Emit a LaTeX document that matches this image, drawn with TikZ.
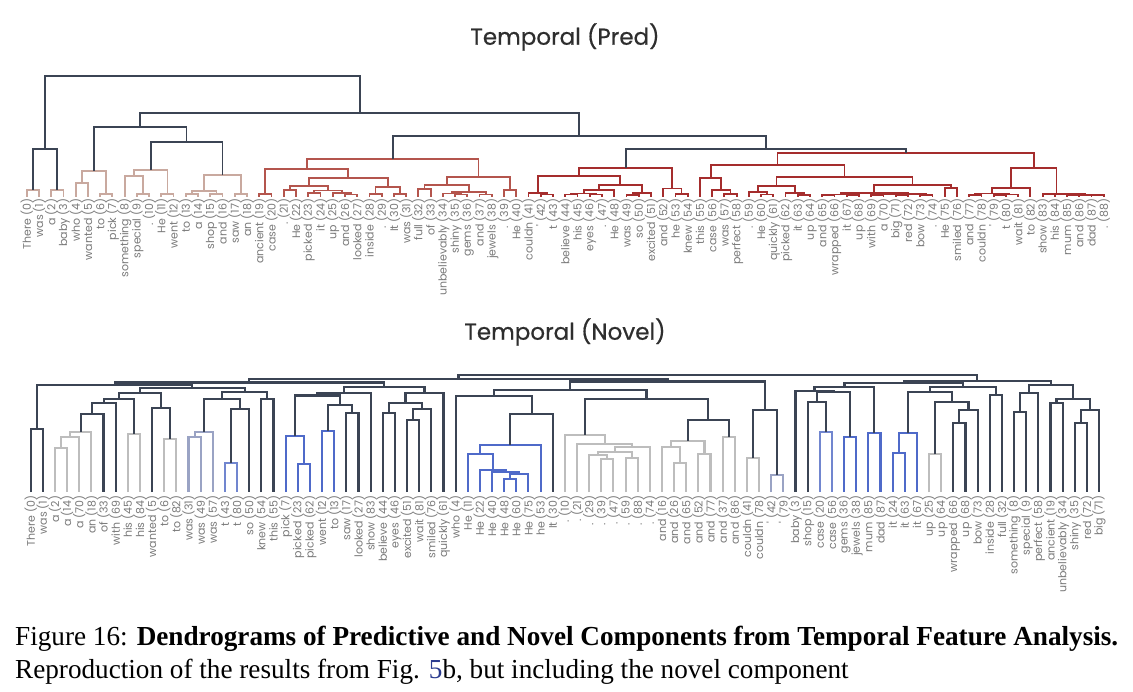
\documentclass[tikz,border=0pt]{standalone}
\usepackage{fontspec}
\usepackage{graphicx}
\usetikzlibrary{calc}
\newfontfamily\lblfont{Poppins}
\newfontfamily\ttlfont[FakeBold=0.6]{Poppins}
\newfontfamily\capfont{Liberation Serif}
\definecolor{cdk}{HTML}{3B4454}
\definecolor{clb}{HTML}{C9A99F}
\definecolor{cra}{HTML}{B4554D}
\definecolor{crb}{HTML}{A52D2D}
\definecolor{cgl}{HTML}{BDBDBD}
\definecolor{cgb}{HTML}{9AA3C4}
\definecolor{cbm}{HTML}{7186CF}
\definecolor{cbl}{HTML}{4F6AC9}
\definecolor{clbl}{HTML}{7A7A7A}
\definecolor{ctit}{HTML}{2E2E2E}
\definecolor{clink}{HTML}{2A3B8F}
\newcommand\mrg[5]{%
  \path let \p1=(#2), \p2=(#3) in coordinate (#1) at ({0.5*\x1+0.5*\x2},{-#4pt});%
  \draw[#5] (#2) |- (#1) -| (#3);}
\begin{document}
\begin{tikzpicture}[x=1pt,y=1pt,
  lnkT/.style={line width=1.8pt},
  lnkB/.style={line width=2.1pt},
  cDk/.style={draw=cdk}, cLb/.style={draw=clb}, cRa/.style={draw=cra}, cRb/.style={draw=crb},
  cGl/.style={draw=cgl}, cGb/.style={draw=cgb}, cBm/.style={draw=cbm}, cBl/.style={draw=cbl},
  lbl/.style={rotate=90, anchor=east, inner sep=0pt, text=clbl, font=\lblfont\fontsize{11}{12}\selectfont},
  ttl/.style={inner sep=0pt, text=ctit, font=\ttlfont\fontsize{23}{26}\selectfont}]
\useasboundingbox (0,0) rectangle (1133,-692);
\fill[white] (0,0) rectangle (1133,-692);

% titles
\node[ttl] (title1) at (565,-37) {Temporal (Pred)};
\node[ttl] (title2) at (565,-332) {Temporal (Novel)};

% ---------- top dendrogram ----------
\foreach \i in {0,...,88}{\coordinate (t\i) at ({26.7+12.24*\i},-197);}
\foreach \w [count=\i from 0] in {There (0),was (1),a (2),baby (3),who (4),wanted (5),to (6),pick (7),something (8),special (9),. (10),He (11),went (12),to (13),a (14),shop (15),and (16),saw (17),an (18),ancient (19),case (20),. (21),He (22),picked (23),it (24),up (25),and (26),looked (27),inside (28),. (29),It (30),was (31),full (32),of (33),unbelievably (34),shiny (35),gems (36),and (37),jewels (38),. (39),He (40),couldn (41),' (42),t (43),believe (44),his (45),eyes (46),. (47),He (48),was (49),so (50),excited (51),and (52),he (53),knew (54),this (55),case (56),was (57),perfect (58),. (59),He (60),quickly (61),picked (62),it (63),up (64),and (65),wrapped (66),it (67),up (68),with (69),a (70),big (71),red (72),bow (73),. (74),He (75),smiled (76),and (77),couldn (78),' (79),t (80),wait (81),to (82),show (83),his (84),mum (85),and (86),dad (87),. (88)}
  {\node[lbl] (tl\i) at ({26.7+12.24*\i},-198.5) {\w};}

\begin{scope}[lnkT]
\mrg{a01}{t0}{t1}{190}{cLb}
\mrg{a23}{t2}{t3}{190}{cLb}
\mrg{a03}{a01}{a23}{149}{cDk}
\mrg{a45}{t4}{t5}{182.7}{cLb}
\mrg{a67}{t6}{t7}{194}{cLb}
\mrg{a47}{a45}{a67}{171}{cLb}
\mrg{a910}{t9}{t10}{194}{cLb}
\mrg{a810}{t8}{a910}{176}{cLb}
\mrg{a1112}{t11}{t12}{194}{cLb}
\mrg{a812}{a810}{a1112}{170}{cLb}
\mrg{a1314}{t13}{t14}{194}{cLb}
\mrg{a1516}{t15}{t16}{194}{cLb}
\mrg{a1316}{a1314}{a1516}{191}{cLb}
\mrg{a1718}{t17}{t18}{194}{cLb}
\mrg{a1318}{a1316}{a1718}{175}{cLb}
\mrg{a818}{a812}{a1318}{141.7}{cDk}
\mrg{a418}{a47}{a818}{126.7}{cDk}
% red A
\mrg{r1920}{t19}{t20}{194}{cRa}
\mrg{r2122}{t21}{t22}{190}{cRa}
\mrg{r2324}{t23}{t24}{193}{cRa}
\mrg{r2627}{t26}{t27}{194.5}{cRa}
\mrg{r2527}{t25}{r2627}{193}{cRa}
\mrg{r2327}{r2324}{r2527}{190.5}{cRa}
\mrg{r2127}{r2122}{r2327}{186}{cRa}
\mrg{r2829}{t28}{t29}{194}{cRa}
\mrg{r3031}{t30}{t31}{194}{cRa}
\mrg{r2831}{r2829}{r3031}{186.7}{cRa}
\mrg{r2131}{r2127}{r2831}{177.7}{cRa}
\mrg{r1931}{r1920}{r2131}{169}{cRa}
\mrg{r3233}{t32}{t33}{189}{cRa}
\mrg{r3536}{t35}{t36}{194.5}{cRa}
\mrg{r3436}{t34}{r3536}{193.5}{cRa}
\mrg{r3738}{t37}{t38}{194.5}{cRa}
\mrg{r3438}{r3436}{r3738}{192}{cRa}
\mrg{r3238}{r3233}{r3438}{184.7}{cRa}
\mrg{r3940}{t39}{t40}{190}{cRa}
\mrg{r3240}{r3238}{r3940}{176.7}{cRa}
\mrg{r1940}{r1931}{r3240}{159.3}{cRa}
% red B
\mrg{s4243}{t42}{t43}{194.5}{cRb}
\mrg{s4143}{t41}{s4243}{193}{cRb}
\mrg{s4445}{t44}{t45}{194.5}{cRb}
\mrg{s4647}{t46}{t47}{194.5}{cRb}
\mrg{s4447}{s4445}{s4647}{193.5}{cRb}
\mrg{s4448}{s4447}{t48}{190}{cRb}
\mrg{s4950}{t49}{t50}{195}{cRb}
\mrg{s4951}{s4950}{t51}{193}{cRb}
\mrg{s4451}{s4448}{s4951}{184.7}{cRb}
\mrg{s4151}{s4143}{s4451}{176}{cRb}
\mrg{s5354}{t53}{t54}{194}{cRb}
\mrg{s5254}{t52}{s5354}{188.5}{cRb}
\mrg{s4154}{s4151}{s5254}{167.7}{cRb}
\mrg{s5758}{t57}{t58}{194}{cRb}
\mrg{s5658}{t56}{s5758}{190}{cRb}
\mrg{s5558}{t55}{s5658}{178}{cRb}
\mrg{s6061}{t60}{t61}{194.5}{cRb}
\mrg{s5961}{t59}{s6061}{192}{cRb}
\mrg{s6364}{t63}{t64}{195}{cRb}
\mrg{s6264}{t62}{s6364}{193}{cRb}
\mrg{s5964}{s5961}{s6264}{186}{cRb}
\mrg{s6566}{t65}{t66}{195.2}{cRb}
\mrg{s6768}{t67}{t68}{195.2}{cRb}
\mrg{s6568}{s6566}{s6768}{194.6}{cRb}
\mrg{s6970}{t69}{t70}{194.8}{cRb}
\mrg{s7172}{t71}{t72}{195}{cRb}
\mrg{s6972}{s6970}{s7172}{194.3}{cRb}
\mrg{s7374}{t73}{t74}{195.3}{cRb}
\mrg{s6974}{s6972}{s7374}{193.8}{cRb}
\mrg{s6574}{s6568}{s6974}{193.2}{cRb}
\mrg{s7576}{t75}{t76}{188}{cRb}
\mrg{s6576}{s6574}{s7576}{185}{cRb}
\mrg{s5976}{s5964}{s6576}{176.7}{cRb}
\mrg{s5576}{s5558}{s5976}{165}{cRb}
\mrg{s7778}{t77}{t78}{195}{cRb}
\mrg{s7980}{t79}{t80}{195}{cRb}
\mrg{s7981}{s7980}{t81}{194.5}{cRb}
\mrg{s7781}{s7778}{s7981}{193.5}{cRb}
\mrg{s7782}{s7781}{t82}{187.7}{cRb}
\mrg{s8586}{t85}{t86}{195.2}{cRb}
\mrg{s8788}{t87}{t88}{195.2}{cRb}
\mrg{s8588}{s8586}{s8788}{194.8}{cRb}
\mrg{s8488}{t84}{s8588}{194.3}{cRb}
\mrg{s8388}{t83}{s8488}{194}{cRb}
\mrg{s7788}{s7782}{s8388}{168.3}{cRb}
\mrg{s5588}{s5576}{s7788}{153.3}{cRb}
% dark top levels
\mrg{d1}{s4154}{s5588}{149.3}{cDk}
\mrg{d2}{r1940}{d1}{136}{cDk}
\mrg{d3}{a418}{d2}{113}{cDk}
\mrg{d4}{a03}{d3}{76}{cDk}
\end{scope}

% ---------- bottom dendrogram ----------
\foreach \i in {0,...,88}{\coordinate (B\i) at ({30.7+12.14*\i},-492);}
\foreach \w [count=\i from 0] in {There (0),was (1),a (2),a (14),a (70),an (18),of (33),with (69),his (45),his (84),wanted (5),to (6),to (82),was (31),was (49),was (57),t (43),t (80),so (50),knew (54),this (55),pick (7),picked (23),picked (62),went (12),to (13),saw (17),looked (27),show (83),believe (44),eyes (46),excited (51),wait (81),smiled (76),quickly (61),who (4),He (11),He (22),He (40),He (48),He (60),He (75),he (53),It (30),. (10),. (21),. (29),. (39),. (47),. (59),. (88),. (74),and (16),and (26),and (65),and (52),and (77),and (37),and (86),couldn (41),couldn (78),' (42),' (79),baby (3),shop (15),case (20),case (56),gems (36),jewels (38),mum (85),dad (87),it (24),it (63),it (67),up (25),up (64),wrapped (66),up (68),bow (73),inside (28),full (32),something (8),special (9),perfect (58),ancient (19),unbelievably (34),shiny (35),red (72),big (71)}
  {\node[lbl] (bl\i) at ({30.7+12.14*\i},-495.5) {\w};}

\begin{scope}[lnkB]
\mrg{c01}{B0}{B1}{429.3}{cDk}
\mrg{c23}{B2}{B3}{448.3}{cGl}
\mrg{c24}{c23}{B4}{437.3}{cGl}
\mrg{c25}{c24}{B5}{431.7}{cGl}
\mrg{c26}{c25}{B6}{413.7}{cDk}
\mrg{c27}{c26}{B7}{403.3}{cDk}
\mrg{c89}{B8}{B9}{434}{cGl}
\mrg{c29}{c27}{c89}{398.7}{cDk}
\mrg{c1112}{B11}{B12}{439.3}{cGl}
\mrg{c1012}{B10}{c1112}{407.7}{cDk}
\mrg{c212}{c29}{c1012}{392.7}{cDk}
\mrg{c1314}{B13}{B14}{437.3}{cGb}
\mrg{c1315}{c1314}{B15}{431.7}{cGb}
\mrg{c1617}{B16}{B17}{462.7}{cBm}
\mrg{c1618}{c1617}{B18}{409.3}{cDk}
\mrg{c1318}{c1315}{c1618}{399.3}{cDk}
\mrg{c1920}{B19}{B20}{399.3}{cDk}
\mrg{c1320}{c1318}{c1920}{392}{cDk}
\mrg{c220}{c212}{c1320}{387.7}{cDk}
\mrg{c020}{c01}{c220}{385}{cDk}
\mrg{c2223}{B22}{B23}{463.7}{cBl}
\mrg{c2123}{B21}{c2223}{436}{cBl}
\mrg{c2425}{B24}{B25}{431}{cBl}
\mrg{c2627}{B26}{B27}{412.7}{cDk}
\mrg{c2427}{c2425}{c2627}{405}{cDk}
\mrg{c2127}{c2123}{c2427}{395.5}{cDk}
\mrg{c2128}{c2127}{B28}{393.3}{cDk}
\mrg{c2930}{B29}{B30}{413.3}{cDk}
\mrg{c3132}{B31}{B32}{420}{cDk}
\mrg{c3133}{c3132}{B33}{409.3}{cDk}
\mrg{c2933}{c2930}{c3133}{403.3}{cDk}
\mrg{c2934}{c2933}{B34}{392.7}{cDk}
\mrg{c2134}{c2128}{c2934}{386.7}{cDk}
\mrg{c034}{c020}{c2134}{382.5}{cDk}
% He cluster
\mrg{h1}{B39}{B40}{479.3}{cBl}
\mrg{h2}{h1}{B41}{474.3}{cBl}
\mrg{h3}{B38}{h2}{472}{cBl}
\mrg{h4}{B37}{h3}{470}{cBl}
\mrg{h5}{B36}{h4}{454}{cBl}
\mrg{h6}{h5}{B42}{445}{cBl}
\mrg{h7}{h6}{B43}{414.3}{cDk}
\mrg{h8}{B35}{h7}{396}{cDk}
% dots
\mrg{e1}{B47}{B48}{459.3}{cGl}
\mrg{e2}{B46}{e1}{455}{cGl}
\mrg{e3}{B49}{B50}{458.3}{cGl}
\mrg{e4}{e2}{e3}{451.7}{cGl}
\mrg{e5}{e4}{B51}{447.3}{cGl}
\mrg{e6}{B45}{e5}{444}{cGl}
\mrg{e7}{B44}{e6}{435}{cGl}
% ands
\mrg{f1}{B53}{B54}{463.3}{cGl}
\mrg{f2}{B52}{f1}{447.3}{cGl}
\mrg{f3}{B55}{B56}{454.3}{cGl}
\mrg{f4}{f2}{f3}{441}{cGl}
\mrg{f5}{B57}{B58}{437.3}{cGl}
\mrg{f6}{f4}{f5}{420}{cDk}
\mrg{f7}{e7}{f6}{399.3}{cDk}
\mrg{g1}{h8}{f7}{390}{cDk}
% couldn / apostrophes
\mrg{k1}{B59}{B60}{458.3}{cGl}
\mrg{k2}{B61}{B62}{475}{cGb}
\mrg{k3}{k1}{k2}{410}{cDk}
\mrg{gR}{g1}{k3}{381.5}{cDk}
\mrg{NA}{c034}{gR}{379.3}{cDk}
% right part
\mrg{m1}{B65}{B66}{431.7}{cBm}
\mrg{m2}{B64}{m1}{401.7}{cDk}
\mrg{m3}{B67}{B68}{436.7}{cBl}
\mrg{m4}{m2}{m3}{392}{cDk}
\mrg{m5}{B63}{m4}{390.7}{cDk}
\mrg{m6}{B69}{B70}{433.3}{cBl}
\mrg{m7}{m5}{m6}{386.7}{cDk}
\mrg{n1}{B71}{B72}{453.3}{cBl}
\mrg{n2}{n1}{B73}{432.7}{cBl}
\mrg{n3}{B74}{B75}{454.3}{cGl}
\mrg{n4}{B76}{B77}{423.3}{cDk}
\mrg{n5}{n4}{B78}{410}{cDk}
\mrg{n6}{n3}{n5}{401.7}{cDk}
\mrg{n7}{n2}{n6}{391.7}{cDk}
\mrg{n8}{B79}{B80}{395}{cDk}
\mrg{n9}{n7}{n8}{387.3}{cDk}
\mrg{NBL}{m7}{n9}{383.3}{cDk}
\mrg{o1}{B81}{B82}{411.7}{cDk}
\mrg{o2}{o1}{B83}{392.7}{cDk}
\mrg{o3}{B84}{B85}{402.7}{cDk}
\mrg{o4}{B86}{B87}{422.7}{cDk}
\mrg{o5}{o4}{B88}{410}{cDk}
\mrg{o6}{o3}{o5}{399.3}{cDk}
\mrg{o7}{o2}{o6}{384.7}{cDk}
\mrg{NB}{NBL}{o7}{381}{cDk}
\mrg{ROOT}{NA}{NB}{375}{cDk}
\end{scope}

% caption
\node[anchor=base west, inner sep=0pt] (caption) at (15,-645)
  {\resizebox{1103pt}{\height}{\capfont\fontsize{27.5}{33}\selectfont
   \begin{tabular}[t]{@{}l@{}}
   Figure 16: \textbf{Dendrograms of Predictive and Novel Components from Temporal Feature Analysis.}\\
   Reproduction of the results from Fig. \textcolor{clink}{5}b, but including the novel component
   \end{tabular}}};
\end{tikzpicture}
\end{document}
